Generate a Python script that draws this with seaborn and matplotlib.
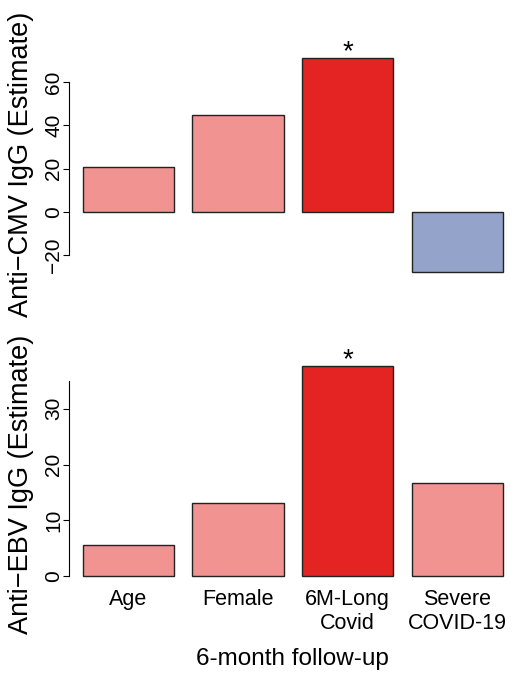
import matplotlib
matplotlib.use("Agg")
import matplotlib.pyplot as plt
import seaborn as sns
import pandas as pd

# values
categories = ["Age", "Female", "6M-Long\nCovid", "Severe\nCOVID-19"]
cmv_estimate = [20.6, 44.6, 71.2, -27.5]
ebv_estimate = [5.65, 13.1, 37.7, 16.75]
cmv_colors = ["#F09391", "#F09391", "#E32422", "#94A3C9"]
ebv_colors = ["#F09391", "#F09391", "#E32422", "#F09391"]
cmv_ticks = [-20, 0, 20, 40, 60]
ebv_ticks = [0, 10, 20, 30]
star_index = 2

sns.set_style("white")
plt.rcParams["font.family"] = ["Liberation Sans", "DejaVu Sans"]
plt.rcParams["text.color"] = "black"
plt.rcParams["axes.labelcolor"] = "black"

fig = plt.figure(figsize=(5.29, 6.80), dpi=100)
ax1 = fig.add_axes([0.1304, 0.5882, 0.8467, 0.3397])
ax2 = fig.add_axes([0.1304, 0.1401, 0.8467, 0.3346])


def draw_panel(ax, values, colors, ticks, ylim, spine_top, ylabel, label_y):
    df = pd.DataFrame({"term": categories, "estimate": values})
    sns.barplot(data=df, x="term", y="estimate", hue="term",
                palette=dict(zip(categories, colors)), legend=False,
                width=0.833, edgecolor="#222222", linewidth=1.0,
                saturation=1, ax=ax)
    ax.set_xlim(-0.541, 3.541)
    ax.set_ylim(*ylim)
    ax.set_yticks(ticks)
    for s in ["top", "right", "bottom"]:
        ax.spines[s].set_visible(False)
    ax.spines["left"].set_bounds(ticks[0], spine_top)
    ax.spines["left"].set_linewidth(0.8)
    ax.spines["left"].set_color("black")
    ax.tick_params(axis="y", left=True, length=4.3, width=0.8, pad=0,
                   labelsize=15, colors="black")
    for lab in ax.get_yticklabels():
        lab.set_rotation(90)
        lab.set_va("center")
    ax.set_xlabel("")
    ax.set_ylabel(ylabel, fontsize=19.5, va="center", color="black")
    ax.yaxis.set_label_coords(21 / 529, label_y, transform=fig.transFigure)
    ax.annotate("*", xy=(star_index, values[star_index]), xytext=(0, -5.5),
                textcoords="offset points", ha="center", va="bottom",
                fontsize=20, color="black", annotation_clip=False)


draw_panel(ax1, cmv_estimate, cmv_colors, cmv_ticks, (-31.4, 75.2), 60,
           "Anti\u2212CMV IgG (Estimate)", 1 - 164 / 680)
draw_panel(ax2, ebv_estimate, ebv_colors, ebv_ticks, (-1.5, 39.2), 35,
           "Anti\u2212EBV IgG (Estimate)", 1 - 484 / 680)

ax1.set_xticks([])
ax2.tick_params(axis="x", length=0, pad=3, labelsize=15.5, colors="black")
ax2.set_xlabel("6-month follow-up", fontsize=17.5, labelpad=10,
               color="black")

fig.savefig("out.png", dpi=100)
